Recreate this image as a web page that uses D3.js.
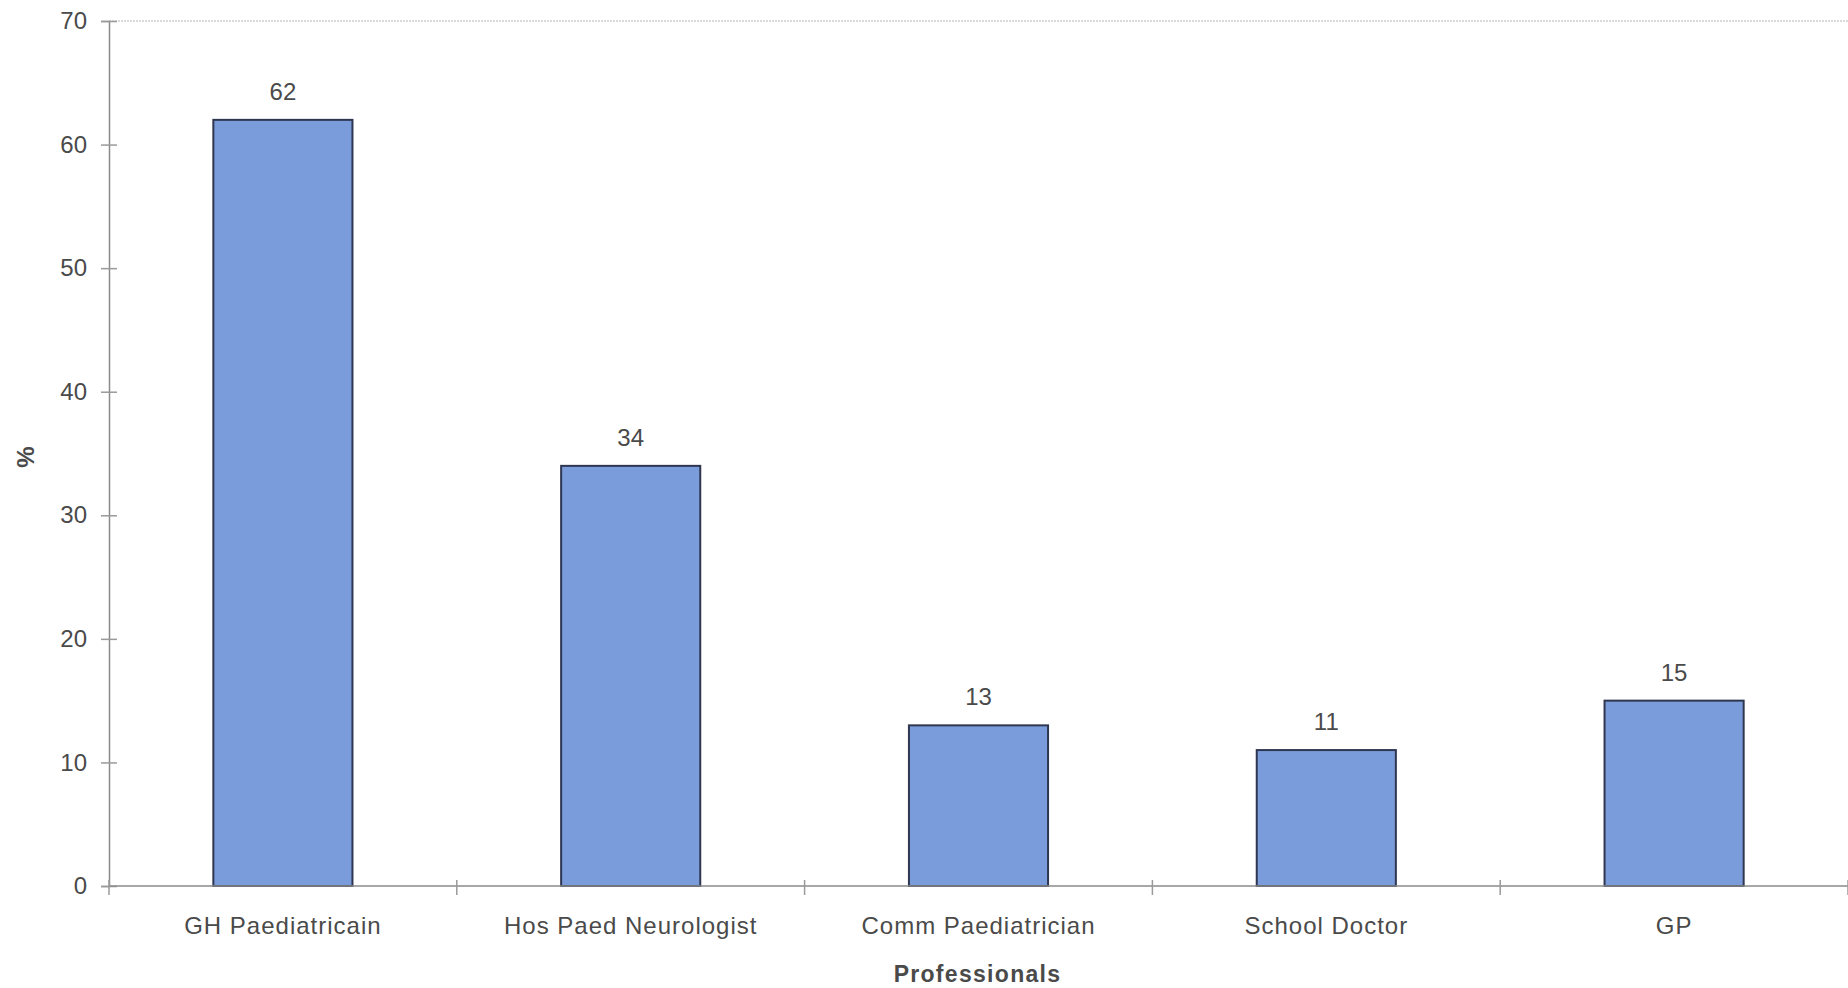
<!DOCTYPE html>
<html>
<head>
<meta charset="utf-8">
<script src="https://cdn.jsdelivr.net/npm/d3@7"></script>
<style>
  html, body { margin: 0; padding: 0; background: #ffffff; }
  svg { display: block; }
  text { font-family: "Liberation Sans", Arial, sans-serif; fill: #4a4a4a; }
</style>
</head>
<body>
<svg id="chart" width="1848" height="988"></svg>
<script>
const categories = ["GH Paediatricain", "Hos Paed Neurologist", "Comm Paediatrician", "School Doctor", "GP"];
const values = [62, 34, 13, 11, 15];
const yTicks = [0, 10, 20, 30, 40, 50, 60, 70];
const xTitle = "Professionals";
const yTitle = "%";

const svg = d3.select("#chart");
const mLeft = 109, mRight = 1848, mTop = 21, mBottom = 886;

const x = d3.scaleBand().domain(categories).range([mLeft, mRight])
  .paddingInner(0.6).paddingOuter(0.3);
const y = d3.scaleLinear().domain([0, 70]).range([mBottom, mTop]);

// top dotted border line
svg.append("line")
  .attr("x1", mLeft).attr("x2", mRight).attr("y1", y(70)).attr("y2", y(70))
  .attr("stroke", "#b5b5b5").attr("stroke-width", 1.2).attr("stroke-dasharray", "2,1");

// bars
svg.append("g").selectAll("rect").data(categories).join("rect")
  .attr("x", d => x(d))
  .attr("y", (d, i) => y(values[i]))
  .attr("width", x.bandwidth())
  .attr("height", (d, i) => y(0) - y(values[i]))
  .attr("fill", "#7b9cdb")
  .attr("stroke", "#2e3650")
  .attr("stroke-width", 2);

// y axis
const yAxis = d3.axisLeft(y).tickValues(yTicks).tickSize(8).tickPadding(14);
const gy = svg.append("g").attr("transform", `translate(${mLeft},0)`).call(yAxis);
gy.select(".domain").attr("stroke", "#8a8a8a").attr("stroke-width", 1.5);
gy.selectAll(".tick line").attr("stroke", "#9a9a9a").attr("stroke-width", 1.5).attr("x2", 8).attr("x1", -8);
gy.selectAll(".tick text").style("font-size", "24px").attr("fill", "#4a4a4a")
  .style("font-family", "'Liberation Sans', Arial, sans-serif");

// x axis
const xTickPos = d3.range(categories.length + 1).map(i => mLeft + i * x.step());
svg.append("line").attr("x1", mLeft).attr("x2", mRight).attr("y1", mBottom).attr("y2", mBottom)
  .attr("stroke", "#8a8a8a").attr("stroke-width", 1.5);
svg.append("g").selectAll("line").data(xTickPos).join("line")
  .attr("x1", d => d).attr("x2", d => d).attr("y1", mBottom - 6).attr("y2", mBottom + 9)
  .attr("stroke", "#9a9a9a").attr("stroke-width", 1.5);

svg.append("g").selectAll("text").data(categories).join("text")
  .attr("x", d => x(d) + x.bandwidth() / 2)
  .attr("y", 934)
  .attr("text-anchor", "middle")
  .style("font-size", "24px")
  .style("letter-spacing", "1px")
  .text(d => d);

// data labels
svg.append("g").selectAll("text").data(categories).join("text")
  .attr("x", d => x(d) + x.bandwidth() / 2)
  .attr("y", (d, i) => y(values[i]) - 20)
  .attr("text-anchor", "middle")
  .style("font-size", "24px")
  .text((d, i) => values[i]);

// axis titles
svg.append("text")
  .attr("x", (mLeft + mRight) / 2 - 1)
  .attr("y", 982)
  .attr("text-anchor", "middle")
  .style("font-size", "23px")
  .style("font-weight", "bold")
  .style("letter-spacing", "1.3px")
  .attr("fill", "#4a4a4a")
  .text(xTitle);

svg.append("text")
  .attr("transform", "translate(34,457) rotate(-90)")
  .attr("text-anchor", "middle")
  .style("font-size", "24px")
  .style("font-weight", "bold")
  .text(yTitle);
</script>
</body>
</html>
